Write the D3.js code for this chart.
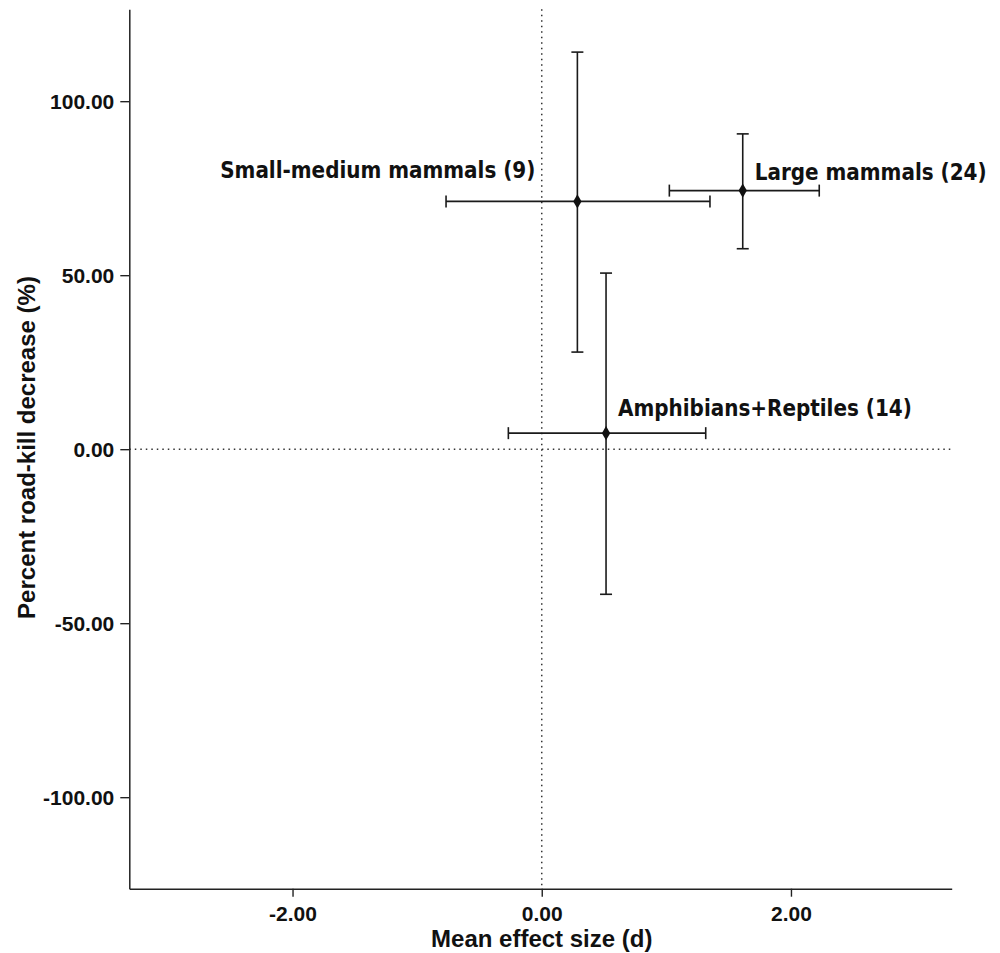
<!DOCTYPE html>
<html>
<head>
<meta charset="utf-8">
<script src="https://cdn.jsdelivr.net/npm/d3@7"></script>
<style>
  html, body { margin: 0; padding: 0; background: #fff; }
  svg { display: block; }
</style>
</head>
<body>
<svg id="chart" width="1000" height="953"></svg>
<script>
// ---- data ----
const groups = ["Small-medium mammals (9)", "Large mammals (24)", "Amphibians+Reptiles (14)"];
const meanEffect = [0.286, 1.613, 0.516];
const effectLow = [-0.768, 1.024, -0.268];
const effectHigh = [1.350, 2.227, 1.316];
const pctDecrease = [71.2, 74.3, 4.6];
const pctLow = [27.9, 57.6, -41.7];
const pctHigh = [114.1, 90.6, 50.6];
const xTicks = [-2, 0, 2];
const yTicks = [-100, -50, 0, 50, 100];
const xDomain = [-3.31, 3.29];
const yDomain = [-126.3, 126.4];

// ---- layout ----
const svg = d3.select("#chart");
const L = 129.3, R = 951.7, T = 9.3, B = 888.7;
const x = d3.scaleLinear().domain(xDomain).range([L, R]);
const y = d3.scaleLinear().domain(yDomain).range([B, T]);

const tickFont = "'Liberation Sans', Arial, sans-serif";
const labelFont = "'DejaVu Sans Condensed', 'DejaVu Sans', Verdana, sans-serif";
const fmt = d => d.toFixed(2);

// reference dotted lines
svg.append("line")
  .attr("x1", x(0)).attr("x2", x(0)).attr("y1", T).attr("y2", B)
  .attr("stroke", "#333").attr("stroke-width", 1.5).attr("stroke-dasharray", "1.5,4");
svg.append("line")
  .attr("x1", L).attr("x2", R).attr("y1", y(0)).attr("y2", y(0))
  .attr("stroke", "#333").attr("stroke-width", 1.5).attr("stroke-dasharray", "1.5,4");

// axes
const xAxis = d3.axisBottom(x).tickValues(xTicks).tickFormat(fmt).tickSize(8).tickSizeOuter(0);
const yAxis = d3.axisLeft(y).tickValues(yTicks).tickFormat(fmt).tickSize(9).tickSizeOuter(0);

const gx = svg.append("g").attr("transform", `translate(0,${B})`).call(xAxis);
const gy = svg.append("g").attr("transform", `translate(${L},0)`).call(yAxis);
[gx, gy].forEach(g => {
  g.select(".domain").attr("stroke", "#222").attr("stroke-width", 1.5);
  g.selectAll(".tick line").attr("stroke", "#222").attr("stroke-width", 1.4);
  g.selectAll(".tick text")
    .attr("fill", "#111").style("font-family", tickFont)
    .style("font-weight", "bold").style("font-size", "21px");
});
gx.selectAll(".tick text").attr("dy", null).attr("y", 32);
gy.selectAll(".tick text").attr("x", -15).attr("dy", "0.36em");

// axis titles
svg.append("text")
  .attr("x", x(0)).attr("y", 946.5)
  .attr("text-anchor", "middle")
  .style("font-family", tickFont).style("font-weight", "bold").style("font-size", "24px")
  .attr("fill", "#111")
  .text("Mean effect size (d)");
svg.append("text")
  .attr("transform", `translate(35,447.5) rotate(-90)`)
  .attr("text-anchor", "middle")
  .style("font-family", tickFont).style("font-weight", "bold").style("font-size", "24px")
  .attr("fill", "#111")
  .text("Percent road-kill decrease (%)");

// error bars
const idx = d3.range(groups.length);
const cap = 6;
const eb = svg.append("g").attr("stroke", "#1a1a1a").attr("stroke-width", 1.6).attr("fill", "none");
idx.forEach(i => {
  const cx = x(meanEffect[i]), cy = y(pctDecrease[i]);
  eb.append("line").attr("x1", x(effectLow[i])).attr("x2", x(effectHigh[i])).attr("y1", cy).attr("y2", cy);
  eb.append("line").attr("x1", x(effectLow[i])).attr("x2", x(effectLow[i])).attr("y1", cy - cap).attr("y2", cy + cap);
  eb.append("line").attr("x1", x(effectHigh[i])).attr("x2", x(effectHigh[i])).attr("y1", cy - cap).attr("y2", cy + cap);
  eb.append("line").attr("x1", cx).attr("x2", cx).attr("y1", y(pctLow[i])).attr("y2", y(pctHigh[i]));
  eb.append("line").attr("x1", cx - cap).attr("x2", cx + cap).attr("y1", y(pctLow[i])).attr("y2", y(pctLow[i]));
  eb.append("line").attr("x1", cx - cap).attr("x2", cx + cap).attr("y1", y(pctHigh[i])).attr("y2", y(pctHigh[i]));
});

// points
svg.append("g").selectAll("path").data(idx).join("path")
  .attr("transform", i => `translate(${x(meanEffect[i])},${y(pctDecrease[i])})`)
  .attr("d", d3.symbol().type(d3.symbolDiamond).size(60))
  .attr("fill", "#111");

// labels (offsets relative to point)
const labelDx = [-42, 12, 12];
const labelDy = [-23, -11, -17];
const labelAnchor = ["end", "start", "start"];
svg.append("g").selectAll("text").data(idx).join("text")
  .attr("x", i => x(meanEffect[i]) + labelDx[i])
  .attr("y", i => y(pctDecrease[i]) + labelDy[i])
  .attr("text-anchor", i => labelAnchor[i])
  .style("font-family", labelFont).style("font-weight", "bold").style("font-size", "22.2px")
  .style("font-stretch", "condensed")
  .attr("fill", "#111")
  .text(i => groups[i]);
</script>
</body>
</html>
